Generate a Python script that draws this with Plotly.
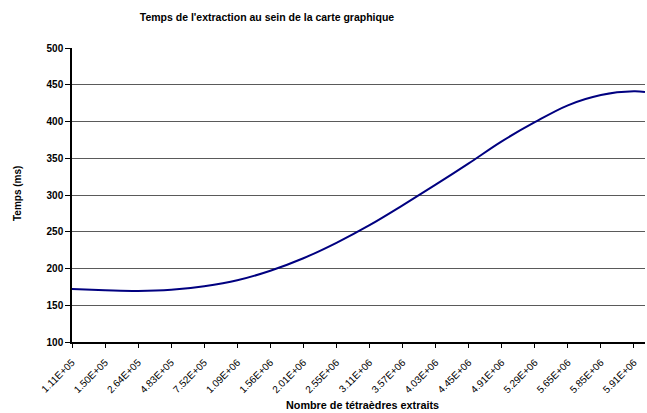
import plotly.graph_objects as go

# Category labels shown on the x axis (number of extracted tetrahedra)
tick_labels = [
    "1.11E+05", "1.50E+05", "2.64E+05", "4.83E+05", "7.52E+05", "1.09E+06",
    "1.56E+06", "2.01E+06", "2.55E+06", "3.11E+06", "3.57E+06", "4.03E+06",
    "4.45E+06", "4.91E+06", "5.29E+06", "5.65E+06", "5.85E+06", "5.91E+06",
]
# Position of each labelled category in the series (labels every 3rd point)
tick_index = [0, 3, 6, 9, 12, 15, 18, 21, 24, 27, 30, 33, 36, 39, 42, 45, 48, 51]

# Sampled points of the series: index in the category sequence and time (ms)
sample_index = [0, 3, 6, 9, 12, 15, 18, 21, 24, 27, 30, 33, 36, 39, 42, 45, 48, 51, 52]
time_ms = [172, 170.5, 169.5, 171, 176, 184, 197, 214, 235, 259, 286, 314,
           343, 373, 399, 422, 436, 441, 440]

FONT = "Liberation Sans, Arial, sans-serif"

# Plot-area edges in pixels, used to place the axis titles
PLOT_LEFT, PLOT_RIGHT = 72, 645
PLOT_TOP, PLOT_BOTTOM = 48, 342


def paper_x(px):
    return (px - PLOT_LEFT) / (PLOT_RIGHT - PLOT_LEFT)


def paper_y(py):
    return (PLOT_BOTTOM - py) / (PLOT_BOTTOM - PLOT_TOP)


fig = go.Figure(
    go.Scatter(
        x=sample_index,
        y=time_ms,
        mode="lines",
        line=dict(color="#000080", width=2, shape="spline", smoothing=1),
        hoverinfo="skip",
    )
)

fig.update_layout(
    width=647,
    height=413,
    margin=dict(l=72, r=2, t=48, b=71),
    paper_bgcolor="white",
    plot_bgcolor="white",
    showlegend=False,
    font=dict(family=FONT, color="black"),
    title=dict(
        text="<b>Temps de l'extraction au sein de la carte graphique</b>",
        font=dict(size=10.5, family=FONT, color="black"),
        x=267 / 647, xanchor="center", xref="container",
        y=1 - 17 / 413, yanchor="middle", yref="container",
    ),
    xaxis=dict(
        range=[0, 52],
        tickmode="array",
        tickvals=tick_index,
        ticktext=tick_labels,
        tickangle=-45,
        tickfont=dict(size=10, family=FONT, color="black"),
        ticklabelstandoff=5,
        ticks="outside",
        ticklen=4,
        tickcolor="black",
        showline=True,
        linecolor="black",
        linewidth=1.5,
        showgrid=False,
        zeroline=False,
        fixedrange=True,
    ),
    yaxis=dict(
        range=[100, 500],
        tickmode="linear",
        tick0=100,
        dtick=50,
        tickfont=dict(size=10, family=FONT, color="black", weight="bold"),
        ticks="outside",
        ticklen=5,
        tickcolor="black",
        showline=True,
        linecolor="black",
        linewidth=1.5,
        showgrid=True,
        gridcolor="#5a5a5a",
        gridwidth=1,
        zeroline=False,
        fixedrange=True,
    ),
    annotations=[
        dict(
            text="<b>Nombre de tétraèdres extraits</b>",
            x=paper_x(362), y=paper_y(405),
            xref="paper", yref="paper",
            xanchor="center", yanchor="middle",
            showarrow=False,
            font=dict(size=10.8, family=FONT, color="black"),
        ),
        dict(
            text="<b>Temps (ms)</b>",
            textangle=-90,
            x=paper_x(17), y=paper_y(194),
            xref="paper", yref="paper",
            xanchor="center", yanchor="middle",
            showarrow=False,
            font=dict(size=10, family=FONT, color="black"),
        ),
    ],
)

fig.write_html("out.html")
